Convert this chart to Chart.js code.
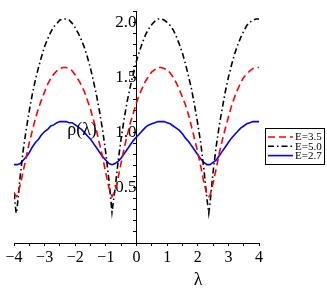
<!DOCTYPE html>
<html>
<head>
<meta charset="utf-8">
<script src="https://cdn.jsdelivr.net/npm/chart.js@4"></script>
<style>
html, body { margin: 0; padding: 0; background: #fff; }
</style>
</head>
<body>
<canvas id="rhoChart" width="327" height="295"></canvas>
<script>
// lambda values (x), extra points at the sharp minima
const lambdas = [
  -4.0, -3.93, -3.9, -3.8, -3.7, -3.6, -3.5, -3.4, -3.3, -3.2, -3.1,
  -3.0, -2.9, -2.8, -2.7, -2.6, -2.5, -2.4, -2.3, -2.2, -2.1,
  -2.0, -1.9, -1.8, -1.7, -1.6, -1.5, -1.4, -1.3, -1.2, -1.1,
  -1.0, -0.9, -0.8, -0.7, -0.6, -0.5, -0.4, -0.3, -0.2, -0.1,
  0.0, 0.1, 0.2, 0.3, 0.4, 0.5, 0.6, 0.7, 0.8, 0.9,
  1.0, 1.1, 1.2, 1.3, 1.4, 1.5, 1.6, 1.7, 1.8, 1.9,
  2.0, 2.1, 2.2, 2.3, 2.36, 2.4, 2.5, 2.6, 2.7, 2.8, 2.9,
  3.0, 3.1, 3.2, 3.3, 3.4, 3.5, 3.6, 3.7, 3.8, 3.9,
  4.0
];

const rhoE35 = [
  0.46, 0.42, 0.43, 0.52, 0.65, 0.78, 0.91, 1.02, 1.13, 1.22, 1.30,
  1.37, 1.44, 1.49, 1.53, 1.56, 1.58, 1.59, 1.59, 1.58, 1.56,
  1.52, 1.48, 1.43, 1.37, 1.29, 1.21, 1.11, 1.01, 0.89, 0.77,
  0.63, 0.50, 0.42, 0.47, 0.59, 0.73, 0.86, 0.98, 1.09, 1.18,
  1.27, 1.35, 1.41, 1.47, 1.51, 1.55, 1.57, 1.59, 1.59, 1.58,
  1.57, 1.54, 1.50, 1.45, 1.39, 1.32, 1.25, 1.16, 1.05, 0.94,
  0.82, 0.69, 0.55, 0.44, 0.42, 0.43, 0.54, 0.67, 0.81, 0.93, 1.04,
  1.14, 1.24, 1.32, 1.39, 1.45, 1.50, 1.53, 1.56, 1.58, 1.59,
  1.59
];

const rhoE50 = [
  0.45, 0.27, 0.31, 0.60, 0.84, 1.03, 1.20, 1.35, 1.48, 1.59, 1.69,
  1.78, 1.85, 1.91, 1.96, 1.99, 2.02, 2.03, 2.03, 2.02, 1.99,
  1.95, 1.90, 1.84, 1.77, 1.68, 1.58, 1.46, 1.33, 1.18, 1.01,
  0.81, 0.57, 0.28, 0.49, 0.74, 0.95, 1.13, 1.29, 1.42, 1.54,
  1.65, 1.74, 1.82, 1.89, 1.94, 1.98, 2.01, 2.03, 2.03, 2.02,
  2.00, 1.97, 1.93, 1.87, 1.80, 1.72, 1.62, 1.51, 1.39, 1.24,
  1.08, 0.90, 0.67, 0.40, 0.27, 0.36, 0.64, 0.87, 1.06, 1.22, 1.37,
  1.50, 1.61, 1.71, 1.79, 1.86, 1.92, 1.97, 2.00, 2.02, 2.03,
  2.03
];

const rhoE27 = [
  0.71, 0.71, 0.71, 0.72, 0.75, 0.78, 0.82, 0.87, 0.91, 0.94, 0.98,
  1.01, 1.03, 1.06, 1.07, 1.09, 1.10, 1.10, 1.10, 1.09, 1.09,
  1.07, 1.05, 1.03, 1.00, 0.97, 0.94, 0.90, 0.86, 0.82, 0.78,
  0.75, 0.72, 0.71, 0.72, 0.74, 0.77, 0.81, 0.85, 0.89, 0.93,
  0.96, 0.99, 1.02, 1.05, 1.07, 1.08, 1.09, 1.10, 1.10, 1.10,
  1.09, 1.08, 1.06, 1.04, 1.02, 0.99, 0.95, 0.92, 0.88, 0.84,
  0.80, 0.76, 0.73, 0.71, 0.71, 0.71, 0.73, 0.75, 0.79, 0.83, 0.87,
  0.91, 0.95, 0.98, 1.01, 1.04, 1.06, 1.08, 1.09, 1.10, 1.10,
  1.10
];

const seriesLabels = ["E=3.5", "E=5.0", "E=2.7"];
const xTickValues = [-4, -3, -2, -1, 0, 1, 2, 3, 4];
const xTickLabels = ["\u22124", "\u22123", "\u22122", "\u22121", "0", "1", "2", "3", "4"];
const yTickValues = [0.5, 1.0, 1.5, 2.0];
const yTickLabels = ["0.5", "1.0", "1.5", "2.0"];

const serif = "'Liberation Serif', 'DejaVu Serif', serif";

function toPoints(ys) {
    return lambdas.map((x, i) => ({ x: x, y: ys[i] }));
}

function findLabel(values, labels, v) {
    const i = values.findIndex(t => Math.abs(t - v) < 1e-6);
    return i >= 0 ? labels[i] : "";
}

// axis titles and the boxed legend
const extras = {
    id: "extras",
    afterDraw(chart) {
        const ctx = chart.ctx;
        ctx.save();
        ctx.fillStyle = "#000";
        ctx.textAlign = "center";
        ctx.textBaseline = "middle";
        ctx.font = "18px " + serif;
        ctx.fillText("\u03c1(\u03bb)", 82, 130);
        ctx.fillText("\u03bb", 198, 280);

        ctx.strokeStyle = "#000";
        ctx.lineWidth = 1;
        ctx.strokeRect(265.5, 128.5, 59, 36);

        ctx.font = "11px " + serif;
        ctx.textAlign = "left";
        chart.data.datasets.forEach((ds, i) => {
            const y = 137 + i * 9.3;
            ctx.strokeStyle = ds.borderColor;
            ctx.lineWidth = ds.borderWidth;
            ctx.setLineDash(ds.borderDash || []);
            ctx.beginPath();
            ctx.moveTo(268, y);
            ctx.lineTo(293, y);
            ctx.stroke();
            ctx.setLineDash([]);
            ctx.fillStyle = "#000";
            ctx.fillText(ds.label, 295, y + 0.5);
        });
        ctx.restore();
    }
};

new Chart(document.getElementById("rhoChart"), {
    type: "line",
    data: {
        datasets: [
            {
                label: seriesLabels[0],
                data: toPoints(rhoE35),
                borderColor: "#ff0000",
                borderWidth: 1.6,
                borderDash: [7, 4]
            },
            {
                label: seriesLabels[1],
                data: toPoints(rhoE50),
                borderColor: "#000000",
                borderWidth: 1.6,
                borderDash: [6, 3, 1.5, 3]
            },
            {
                label: seriesLabels[2],
                data: toPoints(rhoE27),
                borderColor: "#0000ff",
                borderWidth: 1.6
            }
        ]
    },
    options: {
        responsive: false,
        animation: false,
        devicePixelRatio: 1,
        elements: { point: { radius: 0 }, line: { tension: 0 } },
        layout: { padding: { left: 14, right: 68, top: 5, bottom: 0 } },
        plugins: { legend: { display: false }, tooltip: { enabled: false } },
        scales: {
            x: {
                type: "linear",
                min: -4,
                max: 4,
                position: "bottom",
                afterFit: s => { s.height = 52; },
                ticks: {
                    stepSize: 0.5,
                    autoSkip: false,
                    maxRotation: 0,
                    padding: 2,
                    color: "#000",
                    font: { family: serif, size: 16 },
                    callback: v => findLabel(xTickValues, xTickLabels, v)
                },
                grid: { drawOnChartArea: false, tickLength: 3, color: "#000" },
                border: { color: "#000", width: 1 }
            },
            y: {
                type: "linear",
                min: 0,
                max: 2.1,
                position: { x: 0 },
                ticks: {
                    stepSize: 0.1,
                    autoSkip: false,
                    padding: 1,
                    color: "#000",
                    font: { family: serif, size: 17 },
                    callback: v => findLabel(yTickValues, yTickLabels, v)
                },
                grid: { drawOnChartArea: false, tickLength: 3, color: "#000" },
                border: { color: "#000", width: 1 }
            }
        }
    },
    plugins: [extras]
});
</script>
</body>
</html>
